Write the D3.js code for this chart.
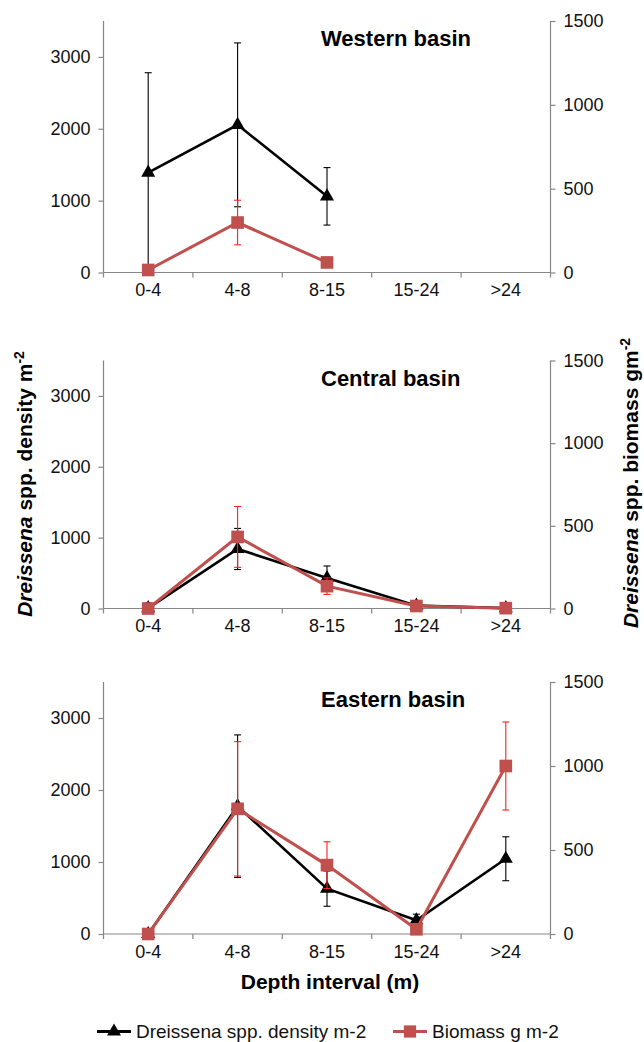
<!DOCTYPE html>
<html><head><meta charset="utf-8">
<script src="https://cdn.jsdelivr.net/npm/d3@7"></script>
<style>
html,body{margin:0;padding:0;background:#fff;}
svg{display:block;font-family:"Liberation Sans",Arial,Helvetica,sans-serif;}
</style></head>
<body>
<svg id="c" width="644" height="1042"></svg>
<script>
const categories = ["0-4","4-8","8-15","15-24",">24"];
const basinNames = ["Western basin","Central basin","Eastern basin"];
const leftTicks = [0,1000,2000,3000];
const rightTicks = [0,500,1000,1500];

const westDensity      = [1390, 2055, 1060, null, null];
const westDensityErr   = [1390, 1140, 400, null, null];
const westBiomass      = [15, 298, 60, null, null];
const westBiomassErr   = [0, 133, 0, null, null];

const centralDensity    = [5, 840, 430, 40, 5];
const centralDensityErr = [75, 290, 170, 20, 5];
const centralBiomass    = [0, 433, 135, 15, 2];
const centralBiomassErr = [0, 184, 50, 5, 1];

const eastDensity    = [0, 1775, 630, 190, 1045];
const eastDensityErr = [0, 990, 245, 85, 305];
const eastBiomass    = [0, 745, 410, 28, 1000];
const eastBiomassErr = [0, 400, 139, 10, 262];

const panels = [
  {title: basinNames[0], top: 21, bottom: 272.5, dens: westDensity, densErr: westDensityErr, bio: westBiomass, bioErr: westBiomassErr},
  {title: basinNames[1], top: 360.5, bottom: 608.5, dens: centralDensity, densErr: centralDensityErr, bio: centralBiomass, bioErr: centralBiomassErr},
  {title: basinNames[2], top: 682, bottom: 934, dens: eastDensity, densErr: eastDensityErr, bio: eastBiomass, bioErr: eastBiomassErr}
];

const svg = d3.select("#c");
const xL = 103.5, xR = 550.5;
const axisColor = "#868686";
const redLine = "#c0504d";
const redErr = "#ff2020";

const x = d3.scaleBand().domain(categories).range([xL, xR]).paddingInner(0).paddingOuter(0);
const bounds = d3.scaleLinear().domain([0, categories.length]).range([xL, xR]);

panels.forEach(p => {
  const yL = d3.scaleLinear().domain([0, 3500]).range([p.bottom, p.top]);
  const yR = d3.scaleLinear().domain([0, 1500]).range([p.bottom, p.top]);
  const g = svg.append("g");

  // left axis
  const la = g.append("g").attr("transform", `translate(${xL},0)`)
    .call(d3.axisLeft(yL).tickValues(leftTicks).tickSize(5).tickPadding(8).tickFormat(d3.format("d")));
  // right axis
  const ra = g.append("g").attr("transform", `translate(${xR},0)`)
    .call(d3.axisRight(yR).tickValues(rightTicks).tickSize(5).tickPadding(8).tickFormat(d3.format("d")));
  // x axis
  const xa = g.append("g").attr("transform", `translate(0,${p.bottom})`)
    .call(d3.axisBottom(x).tickSize(0).tickPadding(14));
  [la, ra, xa].forEach(a => {
    a.select(".domain").attr("stroke", axisColor).attr("stroke-width", 1.2);
    a.selectAll(".tick line").attr("stroke", axisColor).attr("stroke-width", 1.2);
    a.selectAll("text").attr("fill", "#111").style("font-size", "18px").style("font-family", '"Liberation Sans",Arial,sans-serif');
  });
  la.select(".domain").attr("d", `M0,${p.top}V${p.bottom}`);
  ra.select(".domain").attr("d", `M0,${p.top}V${p.bottom}`);
  xa.select(".domain").attr("d", `M${xL},0H${xR}`);
  xa.selectAll(".tick text").attr("dy", "0.71em").attr("y", 11);
  // boundary ticks on x axis
  g.append("g").selectAll("line").data(d3.range(categories.length + 1)).join("line")
    .attr("x1", d => bounds(d)).attr("x2", d => bounds(d))
    .attr("y1", p.bottom).attr("y2", p.bottom + 5)
    .attr("stroke", axisColor).attr("stroke-width", 1.2);

  // title
  g.append("text").attr("x", 321).attr("y", p.top + 25)
    .style("font-size", "22px").style("font-weight", "bold").attr("fill", "#000").text(p.title);

  const cx = d => x(d) + x.bandwidth() / 2;

  function series(vals, errs, y, lineColor, errColor, lw, symbolType, symSize) {
    const pts = categories.map((c, i) => ({c, v: vals[i], e: errs[i]})).filter(d => d.v !== null);
    // error bars
    const eb = g.append("g").attr("stroke", errColor).attr("stroke-width", 1.1).attr("fill", "none");
    pts.filter(d => d.e > 0).forEach(d => {
      const y1 = y(d.v + d.e), y0 = y(Math.max(0, d.v - d.e));
      eb.append("line").attr("x1", cx(d.c)).attr("x2", cx(d.c)).attr("y1", y1).attr("y2", y0);
      eb.append("line").attr("x1", cx(d.c) - 3.5).attr("x2", cx(d.c) + 3.5).attr("y1", y1).attr("y2", y1);
      if (d.v - d.e > 0) eb.append("line").attr("x1", cx(d.c) - 3.5).attr("x2", cx(d.c) + 3.5).attr("y1", y0).attr("y2", y0);
    });
    g.append("path").datum(pts)
      .attr("d", d3.line().x(d => cx(d.c)).y(d => y(d.v)))
      .attr("fill", "none").attr("stroke", lineColor).attr("stroke-width", lw).attr("stroke-linejoin", "miter");
    g.append("g").selectAll("path").data(pts).join("path")
      .attr("transform", d => `translate(${cx(d.c)},${y(d.v)})`)
      .attr("d", d3.symbol(symbolType, symSize))
      .attr("fill", lineColor);
  }
  series(p.dens, p.densErr, yL, "#000", "#000", 2.6, d3.symbolTriangle, 85);
  series(p.bio, p.bioErr, yR, redLine, redErr, 3, d3.symbolSquare, 160);
});

// y axis titles
const leftTitle = svg.append("text").attr("transform", "translate(32,484) rotate(-90)")
  .attr("text-anchor", "middle").style("font-size", "21px").style("font-weight", "bold");
leftTitle.append("tspan").style("font-style", "italic").text("Dreissena");
leftTitle.append("tspan").text(" spp. density m");
leftTitle.append("tspan").attr("dy", -8).style("font-size", "14px").text("-2");

const rightTitle = svg.append("text").attr("transform", "translate(638,483) rotate(-90)")
  .attr("text-anchor", "middle").style("font-size", "21px").style("font-weight", "bold");
rightTitle.append("tspan").style("font-style", "italic").text("Dreissena");
rightTitle.append("tspan").text(" spp. biomass gm");
rightTitle.append("tspan").attr("dy", -8).style("font-size", "14px").text("-2");

svg.append("text").attr("x", 330).attr("y", 989).attr("text-anchor", "middle")
  .style("font-size", "21px").style("font-weight", "bold").text("Depth interval (m)");

// legend
const legendItems = [
  {label: "Dreissena spp. density m-2", color: "#000", sym: d3.symbolTriangle, size: 85, x: 97},
  {label: "Biomass g m-2", color: redLine, sym: d3.symbolSquare, size: 150, x: 393}
];
const lg = svg.append("g");
legendItems.forEach(it => {
  lg.append("line").attr("x1", it.x).attr("x2", it.x + 34).attr("y1", 1031.5).attr("y2", 1031.5)
    .attr("stroke", it.color).attr("stroke-width", 3);
  lg.append("path").attr("transform", `translate(${it.x + 17},1031.5)`).attr("d", d3.symbol(it.sym, it.size)).attr("fill", it.color);
  lg.append("text").attr("x", it.x + 39).attr("y", 1038).style("font-size", "19px").attr("fill", "#111").text(it.label);
});
</script>
</body></html>
